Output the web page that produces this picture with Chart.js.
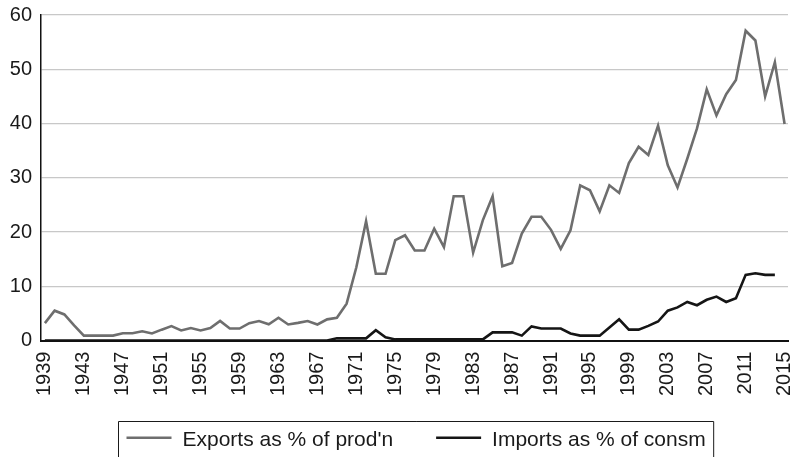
<!DOCTYPE html>
<html>
<head>
<meta charset="utf-8">
<script src="https://cdn.jsdelivr.net/npm/chart.js@4/dist/chart.umd.min.js"></script>
<style>
  html, body { margin: 0; padding: 0; background: #ffffff; }
  #wrap { width: 793px; height: 457px; position: relative; }
</style>
</head>
<body>
<div id="wrap"><canvas id="c"></canvas></div>
<script>
const years = [];
for (let y = 1939; y <= 2015; y++) years.push(y);

const tickYears = [1939, 1943, 1947, 1951, 1955, 1959, 1963, 1967, 1971, 1975, 1979, 1983, 1987, 1991, 1995, 1999, 2003, 2007, 2011, 2015];

const exportsLabel = "Exports as % of prod'n";
const importsLabel = "Imports as % of consm";

const exportsPct = [
  3.2, 5.5, 4.8, 2.8, 0.9, 0.9, 0.9, 0.9, 1.35, 1.35,   // 1939-1948
  1.7, 1.3, 2.0, 2.65, 1.85, 2.3, 1.85, 2.3, 3.6, 2.2,  // 1949-1958
  2.2, 3.2, 3.6, 3.0, 4.2, 2.95, 3.25, 3.6, 2.95, 3.9,  // 1959-1968
  4.2, 6.8, 13.5, 22.0, 12.3, 12.3, 18.5, 19.4, 16.6, 16.6, // 1969-1978
  20.6, 17.2, 26.6, 26.6, 16.2, 22.2, 26.6, 13.7, 14.3, 19.7, // 1979-1988
  22.8, 22.8, 20.4, 16.9, 20.3, 28.6, 27.7, 23.8, 28.6, 27.2, // 1989-1998
  32.7, 35.7, 34.2, 39.6, 32.3, 28.2, 33.5, 39.1, 46.3, 41.5, // 1999-2008
  45.4, 48.0, 57.1, 55.3, 45.0, 51.3, 39.9                    // 2009-2015
];

const importsPct = [
  0, 0, 0, 0, 0, 0, 0, 0, 0, 0,            // 1939-1948
  0, 0, 0, 0, 0, 0, 0, 0, 0, 0,            // 1949-1958
  0, 0, 0, 0, 0, 0, 0, 0, 0, 0,            // 1959-1968
  0.4, 0.4, 0.4, 0.4, 1.9, 0.6, 0.2, 0.2, 0.2, 0.2, // 1969-1978
  0.2, 0.2, 0.2, 0.2, 0.2, 0.2, 1.5, 1.5, 1.5, 0.9, // 1979-1988
  2.6, 2.2, 2.2, 2.2, 1.3, 0.9, 0.9, 0.9, 2.4, 3.9, // 1989-1998
  2.0, 2.0, 2.7, 3.5, 5.5, 6.1, 7.1, 6.5, 7.5, 8.1, // 1999-2008
  7.1, 7.8, 12.1, 12.4, 12.1, 12.1, null           // 2009-2015
];

const FONT = "'Liberation Sans', Arial, Helvetica, sans-serif";

const boxLegend = {
  id: 'boxLegend',
  afterDraw(chart) {
    const ctx = chart.ctx;
    const ca = chart.chartArea;
    const fontSize = 21;
    const sample = 45, gapText = 11, gapItems = 43, padL = 8, padR = 8;
    ctx.save();
    ctx.font = fontSize + 'px ' + FONT;
    const items = chart.data.datasets.map(ds => ({
      text: ds.label, color: ds.borderColor, w: ctx.measureText(ds.label).width
    }));
    let inner = 0;
    items.forEach((it, i) => { inner += sample + gapText + it.w + (i < items.length - 1 ? gapItems : 0); });
    const boxW = padL + inner + padR;
    const cx = (ca.left + ca.right) / 2 + 1;
    const left = Math.round(cx - boxW / 2) + 0.5;
    const top = 421.5;
    ctx.strokeStyle = '#1a1a1a';
    ctx.lineWidth = 1;
    ctx.beginPath();
    ctx.moveTo(left, chart.height + 5);
    ctx.lineTo(left, top);
    ctx.lineTo(left + boxW, top);
    ctx.lineTo(left + boxW, chart.height + 5);
    ctx.stroke();
    let x = left + padL;
    const lineY = 437.7;
    const textY = 445.5;
    items.forEach(it => {
      ctx.strokeStyle = it.color;
      ctx.lineWidth = 2.6;
      ctx.beginPath();
      ctx.moveTo(x, lineY);
      ctx.lineTo(x + sample, lineY);
      ctx.stroke();
      x += sample + gapText;
      ctx.fillStyle = '#1a1a1a';
      ctx.textBaseline = 'alphabetic';
      ctx.textAlign = 'left';
      ctx.fillText(it.text, x, textY);
      x += it.w + gapItems;
    });
    ctx.restore();
  }
};

new Chart(document.getElementById('c'), {
  type: 'line',
  data: {
    labels: years,
    datasets: [
      {
        label: exportsLabel,
        data: years.map((y, i) => ({ x: y, y: exportsPct[i] })),
        borderColor: '#6e6e6e',
        backgroundColor: '#6e6e6e',
        borderWidth: 2.6,
        pointRadius: 0,
        tension: 0,
        fill: false
      },
      {
        label: importsLabel,
        data: years.map((y, i) => ({ x: y, y: importsPct[i] })),
        borderColor: '#151515',
        backgroundColor: '#151515',
        borderWidth: 2.6,
        pointRadius: 0,
        tension: 0,
        fill: false,
        spanGaps: false
      }
    ]
  },
  options: {
    responsive: true,
    maintainAspectRatio: false,
    animation: false,
    layout: { padding: { left: 10, right: 5, top: 15, bottom: 50 } },
    plugins: {
      legend: { display: false },
      tooltip: { enabled: false }
    },
    scales: {
      x: {
        type: 'linear',
        min: 1938.6,
        max: 2015.35,
        afterBuildTicks(scale) {
          scale.ticks = tickYears.map(v => ({ value: v }));
        },
        afterFit(scale) {
          scale.paddingLeft = 0;
          scale.paddingRight = 0;
        },
        ticks: {
          autoSkip: false,
          minRotation: 90,
          maxRotation: 90,
          padding: 11,
          color: '#1a1a1a',
          font: { family: FONT, size: 20 },
          callback: v => String(v)
        },
        grid: { display: false, drawTicks: false },
        border: { display: true, color: '#111111', width: 2 }
      },
      y: {
        min: 0,
        max: 60,
        afterFit(scale) {
          scale.paddingTop = 0;
          scale.paddingBottom = 0;
          scale.width = 31;
        },
        ticks: {
          stepSize: 10,
          padding: 9,
          color: '#1a1a1a',
          font: { family: FONT, size: 20 }
        },
        grid: { color: '#c8c8c8', lineWidth: 1.2, drawTicks: false },
        border: { display: true, color: '#111111', width: 1.5 }
      }
    }
  },
  plugins: [boxLegend]
});
</script>
</body>
</html>
